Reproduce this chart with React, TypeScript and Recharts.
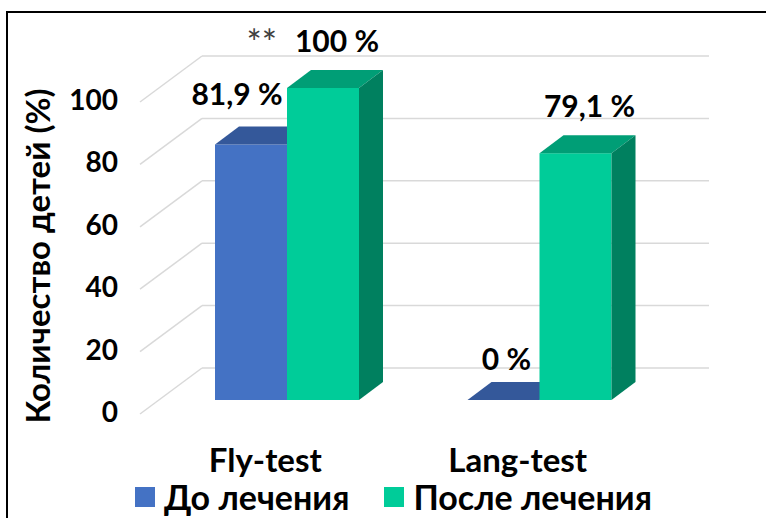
import React from 'react';
import { BarChart, Bar, XAxis, YAxis, CartesianGrid, Legend, LabelList } from 'recharts';

const categories = ['Fly-test', 'Lang-test'];
const beforeValues = [81.9, 0];
const afterValues = [100, 79.1];
const significance = ['**', ''];
const yTicks = [0, 20, 40, 60, 80, 100];
const seriesNames = ['До лечения', 'После лечения'];

const data = categories.map((name, i) => ({
  name,
  before: beforeValues[i],
  after: afterValues[i],
  sig: significance[i],
}));

const FONT = 'Lato, "Noto Sans", sans-serif';
const DEPTH_X = 24;
const DEPTH_Y = 18;
const WALL_X0 = 140;
const WALL_X1 = 202;
const GRID_RIGHT = 709;
const FRONT_DY = 14;
const BACK_DY = -32;

const COLORS = {
  before: { front: '#4472C4', top: '#34589A', side: '#2D4E8A' },
  after: { front: '#00CC99', top: '#009E76', side: '#00805F' },
};

const fmt = (v: number) => String(v).replace('.', ',') + ' %';

const Bar3D = (props: any) => {
  const { x, y, width, height, front, top, side } = props;
  const d = DEPTH_X;
  const e = DEPTH_Y;
  return (
    <g>
      <rect x={x} y={y} width={width} height={Math.max(height, 0)} fill={front} />
      <path d={`M${x},${y} L${x + d},${y - e} L${x + width + d},${y - e} L${x + width},${y} Z`} fill={top} />
      {height > 0 && (
        <path
          d={`M${x + width},${y} L${x + width + d},${y - e} L${x + width + d},${y + height - e} L${x + width},${y + height} Z`}
          fill={side}
        />
      )}
    </g>
  );
};

const gridLine = (p: any) => {
  const y = p.y1;
  return (
    <g key={p.key}>
      <line x1={WALL_X0} y1={y + FRONT_DY} x2={WALL_X1} y2={y + BACK_DY} stroke="#D9D9D9" strokeWidth={1.5} />
      <line x1={WALL_X1} y1={y + BACK_DY} x2={GRID_RIGHT} y2={y + BACK_DY} stroke="#D9D9D9" strokeWidth={1.5} />
    </g>
  );
};

const YTick = (p: any) => (
  <text x={118} y={p.y + FRONT_DY - 3} textAnchor="end" dominantBaseline="central" fontFamily={FONT} fontWeight={700} fontSize={28} fill="#000">
    {p.payload.value}
  </text>
);

const XTick = (p: any) => (
  <text x={p.x - 22} y={472} textAnchor="middle" fontFamily={FONT} fontWeight={700} fontSize={33} fill="#000">
    {p.payload.value}
  </text>
);

const makeLabel = (series: 'before' | 'after') => (p: any) => {
  const { x, y, width, value, index } = p;
  let cx = x + width / 2;
  let base = y - 36;
  if (series === 'after') {
    cx += 14;
  } else {
    cx += value > 0 ? -14 : 3;
    base = value > 0 ? y - 39 : y - 30;
  }
  const sig = series === 'after' ? significance[index] : '';
  return (
    <g>
      {sig ? (
        <text x={cx - 60} y={base + 4} textAnchor="end" fontFamily={FONT} fontSize={36} fill="#404040">
          {sig}
        </text>
      ) : null}
      <text x={cx} y={base} textAnchor="middle" fontFamily={FONT} fontWeight={700} fontSize={30} fill="#000">
        {fmt(value)}
      </text>
    </g>
  );
};

const LegendContent = (props: any) => {
  const items = props.payload || [];
  return (
    <div style={{ display: 'flex', alignItems: 'center', fontFamily: FONT, fontWeight: 700, fontSize: 34, color: '#000', lineHeight: '32px' }}>
      {items.map((it: any, i: number) => (
        <div key={i} style={{ display: 'flex', alignItems: 'center', marginRight: 35 }}>
          <span style={{ display: 'inline-block', width: 20, height: 20, background: it.color, marginRight: 9 }} />
          <span>{it.value}</span>
        </div>
      ))}
    </div>
  );
};

export default function App() {
  return (
    <div style={{ position: 'absolute', left: 0, top: 0, width: 766, height: 518, overflow: 'hidden', background: '#fff' }}>
      <div style={{ position: 'absolute', left: 6, top: 11, width: 900, height: 700, border: '2px solid #000', boxSizing: 'border-box' }} />
      <div style={{ position: 'absolute', left: 0, top: 0 }}>
        <BarChart width={766} height={518} data={data} margin={{ top: 88, right: 100, bottom: 88, left: 101 }} barGap={0} barSize={72}>
          <CartesianGrid vertical={false} horizontal={gridLine} />
          <XAxis dataKey="name" axisLine={false} tickLine={false} tick={<XTick />} interval={0} height={30} />
          <YAxis
            domain={[0, 100]}
            ticks={yTicks}
            width={60}
            axisLine={false}
            tickLine={false}
            tick={<YTick />}
            label={{
              value: 'Количество детей (%)',
              angle: -90,
              position: 'insideLeft',
              content: () => (
                <text
                  x={37}
                  y={256}
                  transform="rotate(-90 37 256)"
                  textAnchor="middle"
                  dominantBaseline="central"
                  fontFamily={FONT}
                  fontWeight={700}
                  fontSize={33}
                  fill="#000"
                >
                  Количество детей (%)
                </text>
              ),
            }}
          />
          <Legend
            layout="horizontal"
            verticalAlign="middle"
            align="center"
            content={<LegendContent />}
            wrapperStyle={{ position: 'absolute', left: 135, top: 481, width: 620 }}
          />
          <Bar
            dataKey="before"
            name={seriesNames[0]}
            fill={COLORS.before.front}
            isAnimationActive={false}
            shape={(p: any) => <Bar3D {...p} front={COLORS.before.front} top={COLORS.before.top} side={COLORS.before.side} />}
          >
            <LabelList dataKey="before" content={makeLabel('before')} />
          </Bar>
          <Bar
            dataKey="after"
            name={seriesNames[1]}
            fill={COLORS.after.front}
            isAnimationActive={false}
            shape={(p: any) => <Bar3D {...p} front={COLORS.after.front} top={COLORS.after.top} side={COLORS.after.side} />}
          >
            <LabelList dataKey="after" content={makeLabel('after')} />
          </Bar>
        </BarChart>
      </div>
    </div>
  );
}
